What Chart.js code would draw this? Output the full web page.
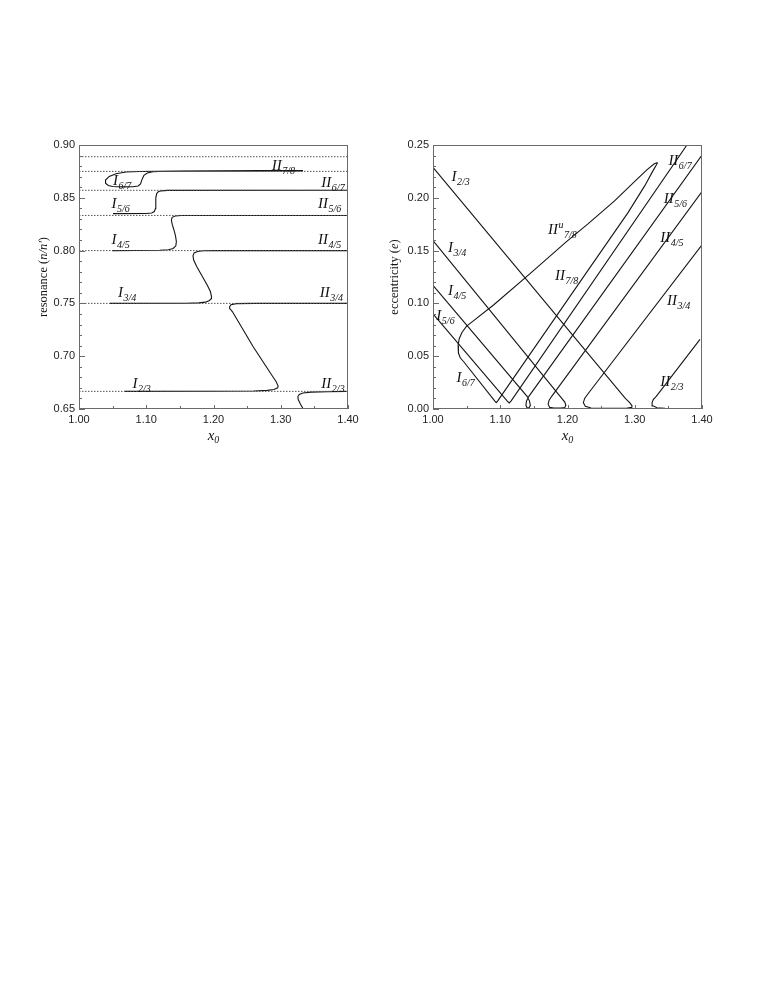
<!DOCTYPE html>
<html>
<head>
<meta charset="utf-8">
<script src="https://cdn.jsdelivr.net/npm/chart.js@4.4.1/dist/chart.umd.min.js"></script>
<style>
  html, body { margin: 0; padding: 0; background: #fff; }
  body { width: 763px; height: 987px; position: relative; overflow: hidden; }
  .box { position: absolute; top: 110px; }
  #leftBox { left: 0; }
  #rightBox { left: 380px; }
</style>
</head>
<body>
<div class="box" id="leftBox"><canvas id="left" width="380" height="350"></canvas></div>
<div class="box" id="rightBox"><canvas id="right" width="383" height="350"></canvas></div>
<script>
// ---- left panel: resonance (n/n') vs x0 ----
const resonanceLevels = [0.6667, 0.75, 0.8, 0.8333, 0.8571, 0.875, 0.8889];
const leftXTicks = ['1.00', '1.10', '1.20', '1.30', '1.40'];
const leftYTicks = ['0.65', '0.70', '0.75', '0.80', '0.85', '0.90'];

// I2/3 -> II3/4
const resA_x = [1.068, 1.20, 1.26, 1.28, 1.290, 1.2955, 1.296, 1.293, 1.288, 1.2588, 1.228, 1.2245, 1.224, 1.226, 1.234, 1.26, 1.40];
const resA_y = [0.6667, 0.6668, 0.6671, 0.6676, 0.6685, 0.6700, 0.6720, 0.6760, 0.6808, 0.7092, 0.7423, 0.7450, 0.7470, 0.7487, 0.7498, 0.7500, 0.7500];
// I3/4 -> II4/5
const resB_x = [1.046, 1.16, 1.178, 1.188, 1.194, 1.1968, 1.1970, 1.1955, 1.1910, 1.1830, 1.1750, 1.1705, 1.1695, 1.1712, 1.1760, 1.185, 1.20, 1.40];
const resB_y = [0.7500, 0.7502, 0.7505, 0.7512, 0.7528, 0.7545, 0.7565, 0.7610, 0.7670, 0.7760, 0.7850, 0.7910, 0.7950, 0.7978, 0.7992, 0.7998, 0.8000, 0.8000];
// I4/5 -> II5/6
const resC_x = [1.0496, 1.12, 1.133, 1.140, 1.1440, 1.1448, 1.1435, 1.1410, 1.1385, 1.1374, 1.1385, 1.1430, 1.1520, 1.17, 1.40];
const resC_y = [0.8000, 0.8003, 0.8008, 0.8020, 0.8045, 0.8085, 0.8140, 0.8200, 0.8250, 0.8290, 0.8315, 0.8328, 0.8332, 0.8333, 0.8333];
// I5/6 -> II6/7
const resD_x = [1.0506, 1.100, 1.108, 1.112, 1.1138, 1.1142, 1.1155, 1.1180, 1.1220, 1.1320, 1.40];
const resD_y = [0.8350, 0.8351, 0.8356, 0.8370, 0.8400, 0.8500, 0.8540, 0.8558, 0.8566, 0.8570, 0.8571];
// I6/7 loop -> II7/8
const resE_x = [1.333, 1.15, 1.09, 1.07, 1.055, 1.045, 1.0395, 1.0395, 1.0435, 1.0500, 1.0650, 1.0800, 1.0880, 1.0915, 1.0935, 1.0965, 1.1015, 1.1100, 1.1300, 1.333];
const resE_y = [0.8757, 0.8753, 0.8749, 0.8744, 0.8728, 0.8702, 0.8668, 0.8638, 0.8617, 0.8607, 0.8603, 0.8604, 0.8612, 0.8632, 0.8670, 0.8712, 0.8735, 0.8746, 0.8752, 0.8754];
// II2/3
const resF_x = [1.3335, 1.3290, 1.3260, 1.3255, 1.3275, 1.3330, 1.345, 1.37, 1.397];
const resF_y = [0.6500, 0.6550, 0.6590, 0.6618, 0.6638, 0.6652, 0.6660, 0.6664, 0.6667];

const leftLabels = [
  { main: 'II', sub: '7/8', x: 1.2866, y: 0.8763 },
  { main: 'I', sub: '6/7', x: 1.0506, y: 0.8622 },
  { main: 'II', sub: '6/7', x: 1.3604, y: 0.8606 },
  { main: 'I', sub: '5/6', x: 1.0482, y: 0.8401 },
  { main: 'II', sub: '5/6', x: 1.3554, y: 0.8404 },
  { main: 'I', sub: '4/5', x: 1.0482, y: 0.8061 },
  { main: 'II', sub: '4/5', x: 1.3554, y: 0.8063 },
  { main: 'I', sub: '3/4', x: 1.0580, y: 0.7560 },
  { main: 'II', sub: '3/4', x: 1.3580, y: 0.7562 },
  { main: 'I', sub: '2/3', x: 1.0794, y: 0.6701 },
  { main: 'II', sub: '2/3', x: 1.3604, y: 0.6701 }
];

// ---- right panel: eccentricity (e) vs x0 ----
const rightXTicks = ['1.00', '1.10', '1.20', '1.30', '1.40'];
const rightYTicks = ['0.00', '0.05', '0.10', '0.15', '0.20', '0.25'];

// I2/3 -> II3/4
const eccA_x = [1.000, 1.286, 1.2925, 1.2960, 1.2955, 1.2890, 1.2600, 1.2350, 1.2265, 1.2236, 1.2255, 1.2300, 1.400];
const eccA_y = [0.2289, 0.0100, 0.0060, 0.0030, 0.0015, 0.0008, 0.0007, 0.0010, 0.0025, 0.0060, 0.0100, 0.0140, 0.1554];
// I3/4 -> II4/5
const eccB_x = [1.000, 1.1915, 1.1960, 1.1975, 1.1960, 1.1900, 1.1800, 1.1735, 1.1712, 1.1725, 1.1765, 1.400];
const eccB_y = [0.1595, 0.0100, 0.0065, 0.0035, 0.0015, 0.0008, 0.0008, 0.0015, 0.0045, 0.0080, 0.0120, 0.2058];
// I4/5 -> II5/6
const eccC_x = [1.000, 1.1405, 1.1435, 1.1448, 1.1430, 1.1398, 1.1382, 1.1390, 1.1420, 1.400];
const eccC_y = [0.1170, 0.0115, 0.0075, 0.0035, 0.0012, 0.0012, 0.0035, 0.0075, 0.0115, 0.2405];
// I5/6 -> II6/7
const eccD_x = [1.000, 1.1105, 1.1133, 1.1160, 1.3776];
const eccD_y = [0.0900, 0.0075, 0.0058, 0.0075, 0.2500];
// II^u7/8 -> I6/7 -> II7/8 (closed at the tip)
const eccE_x = [1.334, 1.329, 1.318, 1.300, 1.270, 1.230, 1.1985, 1.143, 1.090, 1.060, 1.050, 1.043, 1.039, 1.0373, 1.0378, 1.0405, 1.0460, 1.0920, 1.0940, 1.0960, 1.2240, 1.290, 1.315, 1.327, 1.3325, 1.3340];
const eccE_y = [0.2335, 0.2322, 0.2265, 0.2155, 0.1970, 0.1750, 0.1585, 0.1275, 0.0985, 0.0835, 0.0785, 0.0725, 0.0665, 0.0600, 0.0530, 0.0485, 0.0445, 0.0075, 0.0060, 0.0075, 0.1254, 0.1860, 0.2115, 0.2255, 0.2315, 0.2335];
// II2/3
const eccF_x = [1.365, 1.345, 1.3330, 1.3270, 1.3258, 1.3275, 1.3320, 1.397];
const eccF_y = [0.0005, 0.0006, 0.0012, 0.0030, 0.0060, 0.0090, 0.0120, 0.0660];

const rightLabels = [
  { main: 'I', sub: '2/3', x: 1.0274, y: 0.216 },
  { main: 'I', sub: '3/4', x: 1.0224, y: 0.1488 },
  { main: 'I', sub: '4/5', x: 1.0224, y: 0.108 },
  { main: 'I', sub: '5/6', x: 1.005, y: 0.0845 },
  { main: 'I', sub: '6/7', x: 1.035, y: 0.0258 },
  { main: 'II', sup: 'u', sub: '7/8', x: 1.171, y: 0.1658 },
  { main: 'II', sub: '7/8', x: 1.1814, y: 0.1223 },
  { main: 'II', sub: '6/7', x: 1.350, y: 0.231 },
  { main: 'II', sub: '5/6', x: 1.343, y: 0.195 },
  { main: 'II', sub: '4/5', x: 1.338, y: 0.158 },
  { main: 'II', sub: '3/4', x: 1.348, y: 0.0985 },
  { main: 'II', sub: '2/3', x: 1.338, y: 0.022 }
];

function pts(xs, ys) {
  return xs.map((x, i) => ({ x: x, y: ys[i] }));
}
function curve(xs, ys) {
  return { data: pts(xs, ys), showLine: true, borderColor: '#151515', borderWidth: 1.1, pointRadius: 0, tension: 0, fill: false };
}
function level(v) {
  return { data: [{ x: 1.0, y: v }, { x: 1.4, y: v }], showLine: true, borderColor: '#555', borderWidth: 1, borderDash: [1.5, 1.5], pointRadius: 0, fill: false };
}

const SERIF = '"Liberation Serif", "Times New Roman", serif';
const SANS = '"Liberation Sans", Arial, sans-serif';

// frame, inward ticks, curve labels and axis titles
const decorations = {
  id: 'decorations',
  afterDatasetsDraw(chart, args, o) {
    const { ctx, chartArea: a } = chart;
    const xs = chart.scales.x, ys = chart.scales.y;
    ctx.save();
    ctx.strokeStyle = '#6a6a6a';
    ctx.lineWidth = 1;
    ctx.strokeRect(a.left + 0.5, a.top + 0.5, a.right - a.left - 1, a.bottom - a.top - 1);
    ctx.beginPath();
    for (let i = 0; i <= 8; i++) {
      const px = Math.round(xs.getPixelForValue(1 + i * 0.05)) + 0.5;
      ctx.moveTo(px, a.bottom);
      ctx.lineTo(px, a.bottom - (i % 2 === 0 ? 4 : 3));
    }
    for (let i = 0; i <= 25; i++) {
      const py = Math.round(ys.getPixelForValue(o.yMin + i * 0.01)) + 0.5;
      ctx.moveTo(a.left, py);
      ctx.lineTo(a.left + (i % 5 === 0 ? 6 : 3), py);
    }
    ctx.stroke();

    ctx.fillStyle = '#111';
    ctx.textBaseline = 'alphabetic';
    ctx.textAlign = 'left';
    for (const lb of o.labels) {
      let px = xs.getPixelForValue(lb.x);
      const py = ys.getPixelForValue(lb.y);
      ctx.font = 'italic 15px ' + SERIF;
      ctx.fillText(lb.main, px, py);
      px += ctx.measureText(lb.main).width + 0.5;
      ctx.font = 'italic 10px ' + SERIF;
      if (lb.sup) {
        ctx.fillText(lb.sup, px, py - 6);
        px += ctx.measureText(lb.sup).width + 0.5;
      }
      ctx.fillText(lb.sub, px, py + 4);
    }

    // x title: x0
    ctx.font = 'italic 15px ' + SERIF;
    const wx = ctx.measureText('x').width;
    ctx.font = 'italic 10px ' + SERIF;
    const w0 = ctx.measureText('0').width;
    let tx = (a.left + a.right) / 2 - (wx + w0) / 2;
    const ty = a.bottom + 31;
    ctx.font = 'italic 15px ' + SERIF;
    ctx.fillText('x', tx, ty);
    ctx.font = 'italic 10px ' + SERIF;
    ctx.fillText('0', tx + wx, ty + 3);

    // y title, rotated
    ctx.translate(o.yTitleX, (a.top + a.bottom) / 2);
    ctx.rotate(-Math.PI / 2);
    const parts = o.yTitle;
    let total = 0;
    for (const p of parts) {
      ctx.font = (p.it ? 'italic ' : '') + '12.5px ' + SERIF;
      total += ctx.measureText(p.t).width;
    }
    let sx = -total / 2;
    for (const p of parts) {
      ctx.font = (p.it ? 'italic ' : '') + '12.5px ' + SERIF;
      ctx.fillText(p.t, sx, 4);
      sx += ctx.measureText(p.t).width;
    }
    ctx.restore();
  }
};

function makeOptions(xLabels, yLabels, yMin, yMax, yWidth, padRight, deco) {
  return {
    responsive: false,
    animation: false,
    layout: { padding: { top: 35, right: padRight, bottom: 21, left: 0 } },
    plugins: { legend: { display: false }, tooltip: { enabled: false }, decorations: deco },
    scales: {
      x: {
        type: 'linear', min: 1.0, max: 1.4,
        grid: { display: false, drawTicks: false },
        border: { display: false },
        afterFit: s => { s.height = 30; },
        ticks: {
          stepSize: 0.1, padding: 4, color: '#222', font: { family: SANS, size: 11 },
          callback: (v, i) => xLabels[i]
        }
      },
      y: {
        type: 'linear', min: yMin, max: yMax,
        grid: { display: false, drawTicks: false },
        border: { display: false },
        afterFit: s => { s.width = yWidth; },
        ticks: {
          stepSize: 0.05, padding: 4, color: '#222', font: { family: SANS, size: 11 },
          callback: (v, i) => yLabels[i]
        }
      }
    }
  };
}

new Chart(document.getElementById('left'), {
  type: 'scatter',
  data: {
    datasets: resonanceLevels.map(level).concat([
      curve(resA_x, resA_y), curve(resB_x, resB_y), curve(resC_x, resC_y),
      curve(resD_x, resD_y), curve(resE_x, resE_y), curve(resF_x, resF_y)
    ])
  },
  options: makeOptions(leftXTicks, leftYTicks, 0.65, 0.90, 79, 32, {
    yMin: 0.65, labels: leftLabels, yTitleX: 43,
    yTitle: [{ t: 'resonance (' }, { t: "n/n'", it: true }, { t: ')' }]
  }),
  plugins: [decorations]
});

new Chart(document.getElementById('right'), {
  type: 'scatter',
  data: {
    datasets: [
      curve(eccA_x, eccA_y), curve(eccB_x, eccB_y), curve(eccC_x, eccC_y),
      curve(eccD_x, eccD_y), curve(eccE_x, eccE_y), curve(eccF_x, eccF_y)
    ]
  },
  options: makeOptions(rightXTicks, rightYTicks, 0.0, 0.25, 53, 61, {
    yMin: 0.0, labels: rightLabels, yTitleX: 14,
    yTitle: [{ t: 'eccentricity (' }, { t: 'e', it: true }, { t: ')' }]
  }),
  plugins: [decorations]
});
</script>
</body>
</html>
